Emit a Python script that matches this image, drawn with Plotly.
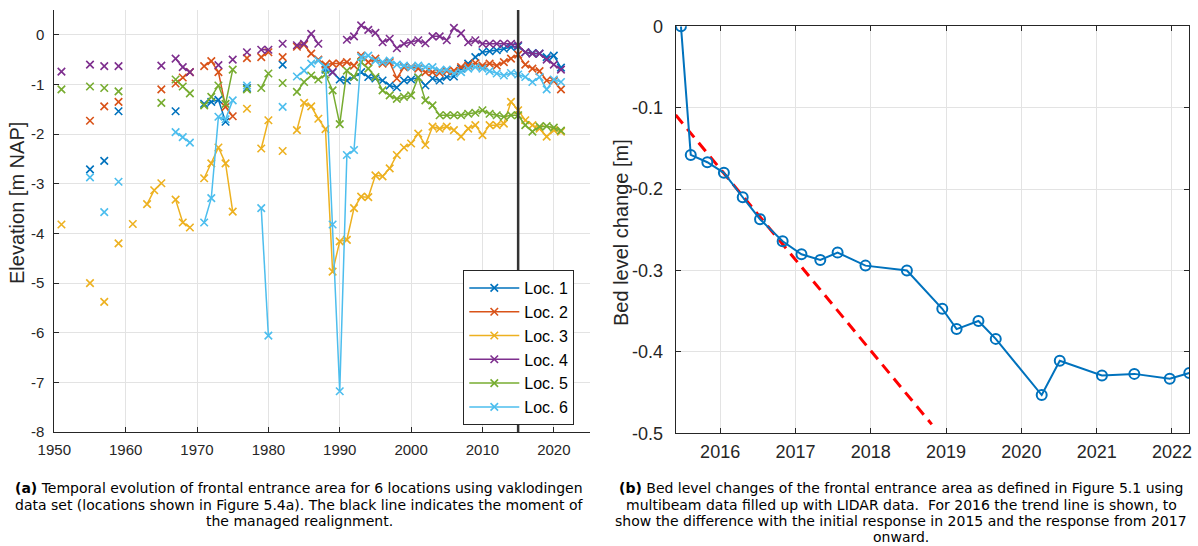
import plotly.graph_objects as go

# ---------------- data: left panel (vaklodingen elevations, m NAP) ----------------
loc1_years = [1955, 1957, 1959, 1967, 1971, 1972, 1973, 1974, 1977, 1982,
              1988, 1989, 1990, 1991, 1992, 1993, 1994, 1995, 1996, 1997, 1998, 1999,
              2000, 2001, 2002, 2003, 2004, 2005, 2006, 2007, 2008, 2009, 2010,
              2011, 2012, 2013, 2014, 2015, 2016, 2017, 2018, 2019, 2020, 2021]
loc1_vals = [-2.71, -2.54, -1.54, -1.54, -1.39, -1.35, -1.31, -1.75, -1.07, -0.60,
             -0.70, -0.75, -0.90, -0.92, -0.85, -0.75, -0.85, -0.88, -0.92, -1.02, -1.06, -0.92,
             -0.90, -0.86, -1.02, -0.88, -0.92, -0.85, -0.84, -0.68, -0.58, -0.45, -0.35,
             -0.33, -0.31, -0.28, -0.25, -0.23, -0.35, -0.37, -0.38, -0.45, -0.42, -0.66]

loc2_years = [1955, 1957, 1959, 1965, 1967, 1968, 1969, 1971, 1972, 1973, 1974, 1975,
              1977, 1979, 1980, 1982,
              1984, 1985, 1986, 1987, 1988, 1989, 1990, 1991, 1992, 1993, 1994, 1995,
              1996, 1997, 1998, 1999, 2000, 2001, 2002, 2003, 2004, 2005, 2006, 2007,
              2008, 2009, 2010, 2011, 2012, 2013, 2014, 2015, 2016, 2017, 2018, 2019,
              2020, 2021]
loc2_vals = [-1.73, -1.44, -1.35, -1.10, -0.98, -0.86, -0.75, -0.63, -0.53, -0.75, -1.45, -1.64,
             -0.47, -0.45, -0.35, -0.45,
             -0.24, -0.20, -0.38, -0.50, -0.60, -0.58, -0.58, -0.55, -0.62, -0.42, -0.55, -0.48,
             -0.58, -0.55, -0.88, -0.65, -0.65, -0.68, -0.75, -0.75, -0.77, -0.73, -0.72, -0.65,
             -0.62, -0.57, -0.62, -0.58, -0.62, -0.55, -0.48, -0.40, -0.60, -0.68, -0.73, -0.92,
             -0.93, -1.10]

loc3_years = [1951, 1955, 1957, 1959, 1961, 1963, 1964, 1965, 1967, 1968, 1969,
              1971, 1972, 1973, 1974, 1975, 1977, 1979, 1980, 1982,
              1984, 1985, 1986, 1987, 1988, 1989, 1990, 1991, 1992, 1993, 1994, 1995,
              1996, 1997, 1998, 1999, 2000, 2001, 2002, 2003, 2004, 2005, 2006, 2007,
              2008, 2009, 2010, 2011, 2012, 2013, 2014, 2015, 2016, 2017, 2018, 2019,
              2020, 2021]
loc3_vals = [-3.82, -5.00, -5.38, -4.20, -3.81, -3.41, -3.13, -2.99, -3.32, -3.78, -3.88,
             -2.89, -2.59, -2.27, -2.59, -3.56, -1.49, -2.29, -1.72, -2.34,
             -1.92, -1.37, -1.44, -1.69, -1.90, -4.77, -4.16, -4.13, -3.49, -3.26, -3.27, -2.83,
             -2.85, -2.69, -2.42, -2.27, -2.19, -1.99, -2.22, -1.85, -1.89, -1.85, -1.92, -2.05,
             -1.89, -1.82, -2.02, -1.82, -1.82, -1.79, -1.35, -1.52, -1.72, -1.82, -1.89, -2.05,
             -1.92, -1.95]

loc4_years = [1951, 1955, 1957, 1959, 1965, 1967, 1968, 1969, 1973, 1975, 1977, 1979, 1980,
              1982, 1984, 1985, 1986, 1987, 1989,
              1991, 1992, 1993, 1994, 1995, 1996, 1997, 1998, 1999, 2000, 2001, 2002,
              2003, 2004, 2005, 2006, 2007, 2008, 2009, 2010, 2011, 2012, 2013, 2014,
              2015, 2016, 2017, 2018, 2019, 2020, 2021]
loc4_vals = [-0.74, -0.60, -0.63, -0.63, -0.62, -0.48, -0.65, -0.75, -0.61, -0.50, -0.35, -0.30, -0.30,
             -0.18, -0.21, -0.18, 0.02, -0.18, -0.75,
             -0.10, -0.03, 0.19, 0.10, 0.04, -0.15, -0.08, -0.27, -0.18, -0.15, -0.11, -0.17,
             -0.03, -0.03, -0.11, 0.14, 0.03, -0.15, -0.11, -0.18, -0.18, -0.18, -0.18, -0.18,
             -0.21, -0.35, -0.38, -0.38, -0.50, -0.60, -0.70]

loc5_years = [1951, 1955, 1957, 1959, 1965, 1967, 1968, 1969, 1971, 1972, 1973, 1974, 1975,
              1977, 1979, 1980, 1982,
              1984, 1985, 1986, 1987, 1988, 1989, 1990, 1991, 1992, 1993, 1994, 1995,
              1996, 1997, 1998, 1999, 2000, 2001, 2002, 2003, 2004, 2005, 2006, 2007,
              2008, 2009, 2010, 2011, 2012, 2013, 2014, 2015, 2016, 2017, 2018, 2019,
              2020, 2021]
loc5_vals = [-1.10, -1.04, -1.07, -1.14, -1.37, -0.90, -1.04, -1.18, -1.42, -1.25, -1.02, -1.39, -0.70,
             -1.10, -1.07, -0.78, -0.97,
             -1.15, -0.95, -0.82, -0.90, -0.80, -1.12, -1.80, -0.72, -0.85, -0.55, -0.68, -0.85,
             -1.12, -1.22, -1.29, -1.25, -1.22, -0.86, -1.32, -1.42, -1.62, -1.62, -1.62, -1.62,
             -1.59, -1.57, -1.52, -1.59, -1.62, -1.65, -1.62, -1.62, -1.82, -1.95, -1.85, -1.84,
             -1.87, -1.93]

loc6_years = [1955, 1957, 1959, 1967, 1968, 1969, 1971, 1972, 1973, 1974, 1975, 1977,
              1979, 1980, 1982,
              1984, 1985, 1986, 1987, 1988, 1989, 1990, 1991, 1992, 1993, 1994, 1995,
              1996, 1997, 1998, 1999, 2000, 2001, 2002, 2003, 2004, 2005, 2006, 2007,
              2008, 2009, 2010, 2011, 2012, 2013, 2014, 2015, 2016, 2017, 2018, 2019,
              2020, 2021]
loc6_vals = [-2.87, -3.57, -2.96, -1.96, -2.06, -2.17, -3.78, -3.29, -1.65, -1.70, -1.32, -1.02,
             -3.49, -6.06, -1.45,
             -0.84, -0.72, -0.58, -0.52, -0.65, -3.82, -7.18, -2.42, -2.32, -0.45, -0.42, -0.52,
             -0.55, -0.52, -0.60, -0.62, -0.65, -0.62, -0.65, -0.65, -0.72, -0.70, -0.78, -0.75,
             -0.68, -0.65, -0.68, -0.73, -0.78, -0.82, -0.77, -0.80, -0.85, -0.95, -0.85, -1.10,
             -0.90, -0.95]

location_names = ["Loc. 1", "Loc. 2", "Loc. 3", "Loc. 4", "Loc. 5", "Loc. 6"]
location_colors = ["#0072BD", "#D95319", "#EDB120", "#7E2F8E", "#77AC30", "#4DBEEE"]
realignment_year = 2015

left_xticks = [1950, 1960, 1970, 1980, 1990, 2000, 2010, 2020]
left_yticks = [-8, -7, -6, -5, -4, -3, -2, -1, 0]

# ---------------- data: right panel (bed level change, m) ----------------
bed_dates = [2015.48, 2015.61, 2015.83, 2016.05, 2016.30, 2016.53, 2016.83, 2017.08,
             2017.33, 2017.56, 2017.93, 2018.48, 2018.95, 2019.14, 2019.43, 2019.66,
             2020.27, 2020.51, 2021.07, 2021.50, 2021.97, 2022.23]
bed_change = [0.000, -0.158, -0.167, -0.180, -0.210, -0.237, -0.264, -0.280,
              -0.287, -0.278, -0.294, -0.300, -0.347, -0.372, -0.362, -0.384,
              -0.453, -0.411, -0.429, -0.427, -0.433, -0.426]
trend_dates = [2015.41, 2018.81]
trend_change = [-0.109, -0.489]

right_xticks = [2016, 2017, 2018, 2019, 2020, 2021, 2022]
right_yticks = [-0.5, -0.4, -0.3, -0.2, -0.1, 0]


def with_gaps(years, vals):
    """Insert None between non-consecutive years so the line breaks there."""
    xs, ys = [], []
    for i, (yr, v) in enumerate(zip(years, vals)):
        if i > 0 and yr - years[i - 1] > 1:
            xs.append(None)
            ys.append(None)
        xs.append(yr)
        ys.append(v)
    return xs, ys


W, H = 1198, 546
AX = "#262626"
GRID = "#e3e3e3"
TICKFONT = "Liberation Sans, Arial, sans-serif"

fig = go.Figure()

series = [(loc1_years, loc1_vals), (loc2_years, loc2_vals), (loc3_years, loc3_vals),
          (loc4_years, loc4_vals), (loc5_years, loc5_vals), (loc6_years, loc6_vals)]
for (yrs, vals), name, col in zip(series, location_names, location_colors):
    xs, ys = with_gaps(yrs, vals)
    fig.add_trace(go.Scatter(
        x=xs, y=ys, name=name, mode="lines+markers", connectgaps=False,
        line=dict(color=col, width=1.5),
        marker=dict(symbol="x-thin", size=7.5, line=dict(color=col, width=1.6)),
        xaxis="x", yaxis="y",
    ))

# trend of 2016 and measured bed level change
fig.add_trace(go.Scatter(
    x=trend_dates, y=trend_change, mode="lines", showlegend=False,
    line=dict(color="#FF0000", width=3, dash="11px,7px"),
    xaxis="x2", yaxis="y2",
))
fig.add_trace(go.Scatter(
    x=bed_dates, y=bed_change, mode="lines+markers", showlegend=False,
    line=dict(color="#0072BD", width=2),
    marker=dict(symbol="circle-open", size=10, line=dict(color="#0072BD", width=2)),
    xaxis="x2", yaxis="y2",
))

# moment of the managed realignment
fig.add_shape(type="line", xref="x", yref="y",
              x0=realignment_year, x1=realignment_year, y0=-8, y1=0.5,
              line=dict(color="#333333", width=2.5))

common_axis = dict(showline=True, linecolor=AX, linewidth=1, ticks="inside",
                   ticklen=5, tickcolor=AX, showgrid=True, gridcolor=GRID,
                   gridwidth=1, zeroline=False, automargin=False,
                   tickfont=dict(family=TICKFONT, color=AX))

fig.update_layout(
    width=W, height=H,
    margin=dict(l=0, r=0, t=0, b=0, pad=0, autoexpand=False),
    paper_bgcolor="white", plot_bgcolor="white",
    showlegend=True,
    xaxis=dict(common_axis, domain=[54.3 / W, 589.5 / W], range=[1950, 2025],
               tickvals=left_xticks, ticktext=[str(t) for t in left_xticks],
               tickfont=dict(family=TICKFONT, color=AX, size=15),
               ticklabelstandoff=4, anchor="y", mirror=False),
    yaxis=dict(common_axis, domain=[1 - 432 / H, 1 - 10 / H], range=[-8, 0.5],
               tickvals=left_yticks, ticktext=[str(t) for t in left_yticks],
               tickfont=dict(family=TICKFONT, color=AX, size=15),
               ticklabelstandoff=6, anchor="x", mirror=False),
    xaxis2=dict(common_axis, domain=[675.7 / W, 1189.3 / W], range=[2015.41, 2022.23],
                tickvals=right_xticks, ticktext=[str(t) for t in right_xticks],
                tickfont=dict(family=TICKFONT, color=AX, size=18),
                ticklabelstandoff=2, anchor="y2", mirror="ticks"),
    yaxis2=dict(common_axis, domain=[1 - 433.3 / H, 1 - 26.3 / H], range=[-0.5, 0],
                tickvals=right_yticks, ticktext=[f"{t:g}" for t in right_yticks],
                tickfont=dict(family=TICKFONT, color=AX, size=18),
                ticklabelstandoff=8, anchor="x2", mirror="ticks"),
    legend=dict(x=463.3 / W, y=1 - 270 / H, xanchor="left", yanchor="top",
                bgcolor="white", bordercolor=AX, borderwidth=1,
                font=dict(family=TICKFONT, size=16, color="#000000"),
                itemwidth=50, tracegroupgap=0),
)

# axis titles
fig.add_annotation(text="Elevation [m NAP]", xref="paper", yref="paper",
                   x=17 / W, y=1 - 203 / H, xanchor="center", yanchor="middle",
                   showarrow=False, textangle=-90,
                   font=dict(family=TICKFONT, size=20, color=AX))
fig.add_annotation(text="Bed level change [m]", xref="paper", yref="paper",
                   x=621 / W, y=1 - 233 / H, xanchor="center", yanchor="middle",
                   showarrow=False, textangle=-90,
                   font=dict(family=TICKFONT, size=20, color=AX))

# captions
CAP = "DejaVu Sans, Verdana, sans-serif"
cap_a = ["<b>(a)</b> Temporal evolution of frontal entrance area for 6 locations using vaklodingen",
         "data set (locations shown in Figure 5.4a). The black line indicates the moment of",
         "the managed realignment."]
cap_b = ["<b>(b)</b> Bed level changes of the frontal entrance area as defined in Figure 5.1 using",
         "multibeam data filled up with LIDAR data.  For 2016 the trend line is shown, to",
         "show the difference with the initial response in 2015 and the response from 2017",
         "onward."]
line_y = [488, 505, 521, 537]
for i, t in enumerate(cap_a):
    fig.add_annotation(text=t, xref="paper", yref="paper", x=299 / W, y=1 - line_y[i] / H,
                       showarrow=False, xanchor="center", yanchor="middle",
                       font=dict(family=CAP, size=14, color="#000000"))
for i, t in enumerate(cap_b):
    fig.add_annotation(text=t, xref="paper", yref="paper", x=901 / W, y=1 - line_y[i] / H,
                       showarrow=False, xanchor="center", yanchor="middle",
                       font=dict(family=CAP, size=14, color="#000000"))

fig.write_html("out.html")
